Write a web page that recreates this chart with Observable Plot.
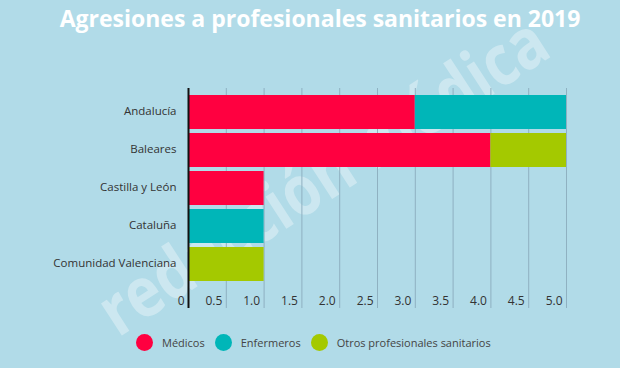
<!DOCTYPE html>
<html>
<head>
<meta charset="utf-8">
<script src="https://cdn.jsdelivr.net/npm/d3@7"></script>
<script src="https://cdn.jsdelivr.net/npm/@observablehq/plot@0.6"></script>
<style>
  html, body { margin: 0; padding: 0; }
  body { width: 620px; height: 368px; overflow: hidden; background: #b1dbe8; font-family: "Open Sans", sans-serif; }
  #wrap { position: relative; width: 620px; height: 368px; }
  #title { position: absolute; left: 0; width: 640px; top: 2px; text-align: center; color: #fff; font: bold 23px "Open Sans", sans-serif; letter-spacing: 0px; }
  #chart { position: absolute; left: 0; top: 0; }
  #wm { position: absolute; left: 0; top: 0; }
  #legend { position: absolute; top: 334px; left: 136px; display: flex; align-items: center; font-size: 11px; color: #444; }
  .item { display: flex; align-items: center; margin-right: 10px; }
  .sw { width: 17px; height: 17px; border-radius: 50%; margin-right: 9px; }
</style>
</head>
<body>
<div id="wrap">
  <svg id="wm" width="620" height="368">
    <text x="0" y="0" transform="translate(118,338) rotate(-33)" fill="#ffffff" fill-opacity="0.35" font-family="Open Sans, sans-serif" font-weight="bold" font-size="70" textLength="520" lengthAdjust="spacingAndGlyphs">redacción médica</text>
  </svg>
  <div id="title">Agresiones a profesionales sanitarios en 2019</div>
  <div id="chart"></div>
  <div id="legend"></div>
</div>
<script>
const regions = ["Andalucía", "Baleares", "Castilla y León", "Cataluña", "Comunidad Valenciana"];
const series = ["Médicos", "Enfermeros", "Otros profesionales sanitarios"];
const colors = ["#ff0040", "#00b6b8", "#a4c900"];
const medicos = [3, 4, 1, 0, 0];
const enfermeros = [2, 0, 0, 1, 0];
const otros = [0, 1, 0, 0, 1];
const xTicks = [0, 0.5, 1, 1.5, 2, 2.5, 3, 3.5, 4, 4.5, 5];

const values = [medicos, enfermeros, otros];
const data = [];
regions.forEach((r, i) => series.forEach((s, j) => data.push({region: r, series: s, value: values[j][i]})));

const fmt = d => d === 0 ? "0" : d.toFixed(1);

const plot = Plot.plot({
  width: 620,
  height: 368,
  marginLeft: 188,
  marginRight: 54,
  marginTop: 89,
  marginBottom: 81,
  style: {background: "transparent", fontFamily: "Open Sans, sans-serif", fontSize: "12px", color: "#333"},
  x: {domain: [0, 5]},
  y: {domain: regions, padding: 0.1},
  color: {domain: series, range: colors},
  marks: [
    Plot.ruleX(xTicks.filter(d => d > 0), {stroke: "#8fb1c1", strokeWidth: 1, insetBottom: -21, insetTop: -1}),
    Plot.barX(data, Plot.stackX({x: "value", y: "region", fill: "series", order: series})),
    Plot.axisX({ticks: xTicks, tickFormat: fmt, tickSize: 0, tickPadding: 6, textAnchor: "end", dx: -4, dy: 3, fill: "#333", fontSize: 12, label: null}),
    Plot.axisY({tickSize: 0, tickPadding: 12, fill: "#333", fontSize: 11.5, dy: -1, label: null}),
    Plot.ruleX([0], {stroke: "#111", strokeWidth: 2, insetBottom: -21, insetTop: -1})
  ]
});
document.getElementById("chart").appendChild(plot);

const legend = document.getElementById("legend");
series.forEach((s, i) => {
  const it = document.createElement("div");
  it.className = "item";
  it.innerHTML = `<span class="sw" style="background:${colors[i]}"></span><span>${s}</span>`;
  legend.appendChild(it);
});
</script>
</body>
</html>
